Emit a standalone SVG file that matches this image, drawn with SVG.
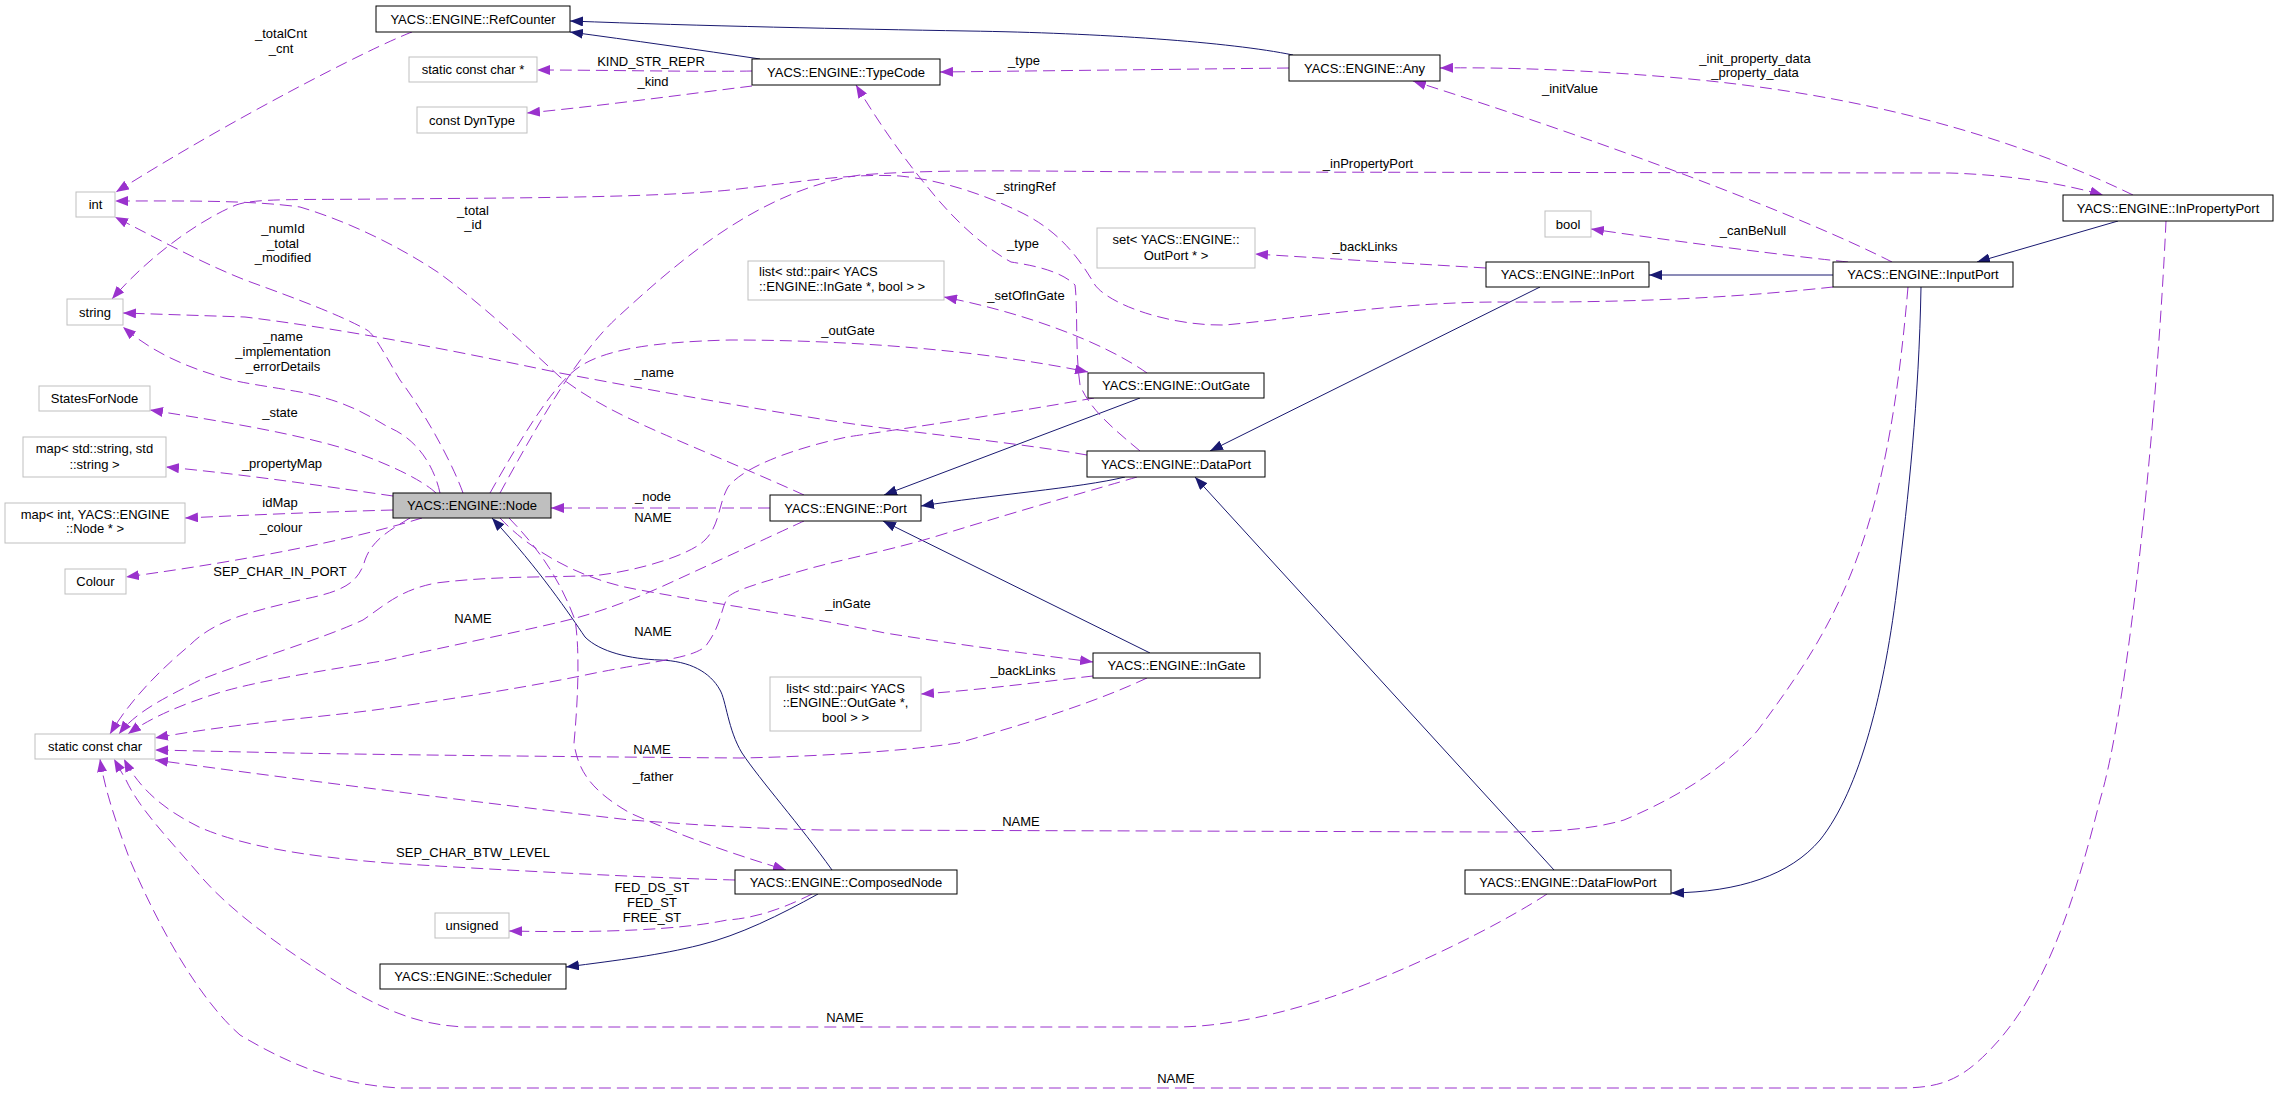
<svg xmlns="http://www.w3.org/2000/svg" width="2279" height="1093" viewBox="0 0 2279 1093">
<style>
.e{fill:none;stroke:#9a32cd;stroke-width:1;stroke-dasharray:12,6;marker-end:url(#mp)}
.i{fill:none;stroke:#191970;stroke-width:1;marker-end:url(#mn)}
.n rect{fill:#fff;stroke:#000;stroke-width:1}
.g rect{fill:#fff;stroke:#bfbfbf;stroke-width:1}
.f rect{fill:#bfbfbf;stroke:#000;stroke-width:1}
text{font-family:"Liberation Sans",Arial,sans-serif;font-size:13px;fill:#000}
.c{text-anchor:middle}
</style>
<defs>
<marker id="mp" markerUnits="userSpaceOnUse" markerWidth="14" markerHeight="10" refX="13" refY="5" orient="auto"><path d="M0,0L13,5L0,10z" fill="#9a32cd"/></marker>
<marker id="mn" markerUnits="userSpaceOnUse" markerWidth="14" markerHeight="10" refX="13" refY="5" orient="auto"><path d="M0,0L13,5L0,10z" fill="#191970"/></marker>
</defs>
<rect width="2279" height="1093" fill="#fff"/>
<g id="edges">
<path class="i" d="M760,59 C700,50 630,40 570,32"/>
<path class="i" d="M1293,55 C1230,42 1100,33 968,31 C850,29 700,26 570,21"/>
<path class="i" d="M2118,221 L1977,262"/>
<path class="i" d="M1833,275 L1649,275"/>
<path class="i" d="M1921,287 C1919,400 1908,500 1898,580 C1885,690 1860,790 1820,840 C1790,875 1740,892 1671,893"/>
<path class="i" d="M1540,287 L1210,451"/>
<path class="i" d="M1140,398 L884,495"/>
<path class="i" d="M1125,477 C1080,488 990,495 921,506"/>
<path class="i" d="M1150,653 L883,521"/>
<path class="i" d="M1554,870 L1195,477"/>
<path class="i" d="M832,870 C800,825 760,780 742,753 C728,730 726,700 720,690 C710,672 690,661 660,660 C630,659 600,652 585,637 C570,615 540,570 492,518"/>
<path class="i" d="M818,894 C780,915 740,935 700,945 C660,955 620,960 566,967"/>
<path class="e" d="M412,32 C370,48 230,120 116,192"/>
<path class="e" d="M752,71 C700,72 600,70 537,70"/>
<path class="e" d="M752,86 C680,95 600,106 527,113"/>
<path class="e" d="M1289,68 L940,72"/>
<path class="e" d="M2133,195 C2040,150 1900,100 1700,80 C1600,70 1500,67 1440,68"/>
<path class="e" d="M1892,262 C1800,215 1600,140 1413,81"/>
<path class="e" d="M500,493 C540,420 580,350 620,315 C680,260 760,190 860,175 C950,168 1050,172 1200,172 L1950,173 C2010,175 2060,183 2103,195"/>
<path class="e" d="M1848,262 C1790,256 1680,242 1591,229"/>
<path class="e" d="M1486,268 C1400,263 1320,258 1255,254"/>
<path class="e" d="M1833,287 C1750,296 1650,303 1500,302 C1400,302 1300,318 1225,325 C1170,326 1110,305 1095,285 C1080,260 1060,230 1016,210 C980,193 940,180 900,176 C850,173 800,182 730,190 C650,198 500,198 380,199 C300,200 255,198 236,205 C200,220 150,255 112,299"/>
<path class="e" d="M1140,451 C1115,430 1090,410 1080,385 C1075,350 1078,310 1075,285 C1060,270 1030,265 1011,262 C980,245 950,215 930,190 C905,160 880,125 856,85"/>
<path class="e" d="M1147,373 C1100,340 1020,312 944,297"/>
<path class="e" d="M490,493 C520,440 550,390 575,370 C600,350 650,342 730,340 C850,340 980,350 1088,372"/>
<path class="e" d="M1087,455 C1000,440 900,432 827,420 C750,408 650,390 560,373 C450,350 350,330 245,317 L123,313"/>
<path class="e" d="M440,493 C435,470 420,440 388,427 C360,410 340,400 300,392 C260,385 240,383 221,377 C180,365 150,350 123,327"/>
<path class="e" d="M463,493 C455,470 430,420 400,380 C385,355 375,335 367,330 C340,315 300,300 245,280 C200,262 160,240 115,217"/>
<path class="e" d="M436,493 C420,478 380,460 339,447 C280,430 200,418 150,410"/>
<path class="e" d="M393,496 C330,487 250,475 166,467"/>
<path class="e" d="M393,510 C320,512 250,515 185,518"/>
<path class="e" d="M422,518 C350,540 250,560 126,577"/>
<path class="e" d="M410,518 C390,530 372,540 365,560 C358,585 340,592 300,600 C250,612 215,620 190,645 C160,670 130,700 110,734"/>
<path class="e" d="M770,508 L551,508"/>
<path class="e" d="M1094,398 C1000,415 880,432 847,437 C800,447 745,465 728,487 C718,505 720,525 705,540 C690,555 640,570 600,575 C560,578 500,575 436,583 C400,590 385,605 363,620 C320,640 250,660 200,680 C160,700 135,713 119,734"/>
<path class="e" d="M804,521 C780,532 720,560 661,587 C620,605 590,615 560,622 C500,636 420,652 388,660 C340,668 260,680 218,693 C180,705 150,718 128,734"/>
<path class="e" d="M1137,477 C1100,488 1031,507 934,537 C880,553 837,560 794,573 C760,583 735,590 728,597 C720,610 722,625 705,647 C690,658 662,660 595,673 C529,687 463,697 396,707 C330,717 242,722 155,738"/>
<path class="e" d="M1147,678 C1100,700 1040,720 958,743 C900,752 800,757 740,758 C600,757 400,755 291,753 L155,750"/>
<path class="e" d="M1908,287 C1900,380 1890,440 1877,493 C1850,600 1810,660 1758,730 C1720,775 1660,805 1624,820 C1590,830 1550,832 1500,832 L822,830 C740,828 700,825 630,820 C500,805 300,780 155,760"/>
<path class="e" d="M1547,894 C1500,925 1400,975 1322,1000 C1260,1020 1210,1027 1176,1027 L465,1027 C420,1025 390,1012 350,990 C300,960 240,920 204,880 C170,840 140,810 126,780 L114,759"/>
<path class="e" d="M2166,221 C2158,400 2130,700 2100,800 C2070,920 2040,1000 1987,1053 C1960,1080 1940,1088 1900,1088 L400,1088 C340,1085 290,1065 240,1035 C200,1000 160,930 130,860 C115,820 105,790 100,759"/>
<path class="e" d="M735,880 C650,878 500,870 388,863 C300,856 240,845 199,827 C165,810 140,790 124,759"/>
<path class="e" d="M500,518 C530,550 580,580 640,590 C720,605 800,615 885,633 C980,648 1040,655 1093,662"/>
<path class="e" d="M509,518 C540,550 560,580 575,620 C580,650 578,700 574,743 C578,770 590,790 630,813 C680,835 720,850 786,870"/>
<path class="e" d="M1093,676 C1040,682 980,690 921,694"/>
<path class="e" d="M812,894 C790,905 760,918 727,920 C680,930 600,933 509,931"/>
<path class="e" d="M804,495 C760,475 700,450 661,433 C620,415 590,400 560,377 C520,340 480,303 439,273 C400,247 350,222 300,207 C250,200 180,201 115,201"/>
<g id="edge-labels">
<text class="c" x="281" y="38">_totalCnt</text>
<text class="c" x="281" y="53">_cnt</text>
<text class="c" x="651" y="66">KIND_STR_REPR</text>
<text class="c" x="653" y="86">_kind</text>
<text class="c" x="1024" y="65">_type</text>
<text class="c" x="1755" y="63">_init_property_data</text>
<text class="c" x="1755" y="77">_property_data</text>
<text class="c" x="1570" y="93">_initValue</text>
<text class="c" x="1368" y="168">_inPropertyPort</text>
<text class="c" x="1026" y="191">_stringRef</text>
<text class="c" x="473" y="215">_total</text>
<text class="c" x="473" y="229">_id</text>
<text class="c" x="1753" y="235">_canBeNull</text>
<text class="c" x="283" y="233">_numId</text>
<text class="c" x="283" y="248">_total</text>
<text class="c" x="283" y="262">_modified</text>
<text class="c" x="1023" y="248">_type</text>
<text class="c" x="1365" y="251">_backLinks</text>
<text class="c" x="1026" y="300">_setOfInGate</text>
<text class="c" x="848" y="335">_outGate</text>
<text class="c" x="283" y="341">_name</text>
<text class="c" x="283" y="356">_implementation</text>
<text class="c" x="283" y="371">_errorDetails</text>
<text class="c" x="654" y="377">_name</text>
<text class="c" x="280" y="417">_state</text>
<text class="c" x="282" y="468">_propertyMap</text>
<text class="c" x="280" y="507">idMap</text>
<text class="c" x="653" y="501">_node</text>
<text class="c" x="653" y="522">NAME</text>
<text class="c" x="281" y="532">_colour</text>
<text class="c" x="280" y="576">SEP_CHAR_IN_PORT</text>
<text class="c" x="848" y="608">_inGate</text>
<text class="c" x="473" y="623">NAME</text>
<text class="c" x="653" y="636">NAME</text>
<text class="c" x="1023" y="675">_backLinks</text>
<text class="c" x="652" y="754">NAME</text>
<text class="c" x="653" y="781">_father</text>
<text class="c" x="1021" y="826">NAME</text>
<text class="c" x="473" y="857">SEP_CHAR_BTW_LEVEL</text>
<text class="c" x="652" y="892">FED_DS_ST</text>
<text class="c" x="652" y="907">FED_ST</text>
<text class="c" x="652" y="922">FREE_ST</text>
<text class="c" x="845" y="1022">NAME</text>
<text class="c" x="1176" y="1083">NAME</text>
</g>
</g>
<g id="RefCounter" class="n"><rect x="376" y="6" width="194" height="26"/><text class="c" x="473" y="23.5">YACS::ENGINE::RefCounter</text></g>
<g id="StaticConstCharPtr" class="g"><rect x="409" y="57" width="128" height="25"/><text class="c" x="473" y="74">static const char *</text></g>
<g id="ConstDynType" class="g"><rect x="417" y="107" width="110" height="26"/><text class="c" x="472" y="124.5">const DynType</text></g>
<g id="TypeCode" class="n"><rect x="752" y="59" width="188" height="26"/><text class="c" x="846" y="76.5">YACS::ENGINE::TypeCode</text></g>
<g id="Any" class="n"><rect x="1289" y="55" width="151" height="26"/><text class="c" x="1364.5" y="72.5">YACS::ENGINE::Any</text></g>
<g id="int" class="g"><rect x="76" y="192" width="39" height="25"/><text class="c" x="95.5" y="209">int</text></g>
<g id="string" class="g"><rect x="67" y="299" width="56" height="26"/><text class="c" x="95" y="316.5">string</text></g>
<g id="SetOutPort" class="g"><rect x="1097" y="228" width="158" height="40"/><text class="c" x="1176" y="244">set&lt; YACS::ENGINE::</text><text class="c" x="1176" y="259.5">OutPort * &gt;</text></g>
<g id="ListInGate" class="g"><rect x="748" y="261" width="196" height="39"/><text x="759" y="276">list&lt; std::pair&lt; YACS</text><text x="759" y="291">::ENGINE::InGate *, bool &gt; &gt;</text></g>
<g id="bool" class="g"><rect x="1545" y="211" width="46" height="26"/><text class="c" x="1568" y="228.5">bool</text></g>
<g id="InPropertyPort" class="n"><rect x="2063" y="195" width="210" height="26"/><text class="c" x="2168" y="212.5">YACS::ENGINE::InPropertyPort</text></g>
<g id="InPort" class="n"><rect x="1486" y="262" width="163" height="25"/><text class="c" x="1567.5" y="279">YACS::ENGINE::InPort</text></g>
<g id="InputPort" class="n"><rect x="1833" y="262" width="180" height="25"/><text class="c" x="1923" y="279">YACS::ENGINE::InputPort</text></g>
<g id="StatesForNode" class="g"><rect x="39" y="386" width="111" height="25"/><text class="c" x="94.5" y="403">StatesForNode</text></g>
<g id="MapStringString" class="g"><rect x="23" y="437" width="143" height="40"/><text class="c" x="94.5" y="453">map&lt; std::string, std</text><text class="c" x="94.5" y="468.5">::string &gt;</text></g>
<g id="MapIntNode" class="g"><rect x="5" y="503" width="180" height="40"/><text class="c" x="95" y="518.5">map&lt; int, YACS::ENGINE</text><text class="c" x="95" y="533">::Node * &gt;</text></g>
<g id="Colour" class="g"><rect x="65" y="569" width="61" height="25"/><text class="c" x="95.5" y="586">Colour</text></g>
<g id="Node" class="f"><rect x="393" y="493" width="158" height="25"/><text class="c" x="472" y="510">YACS::ENGINE::Node</text></g>
<g id="OutGate" class="n"><rect x="1088" y="373" width="176" height="25"/><text class="c" x="1176" y="390">YACS::ENGINE::OutGate</text></g>
<g id="DataPort" class="n"><rect x="1087" y="451" width="178" height="26"/><text class="c" x="1176" y="468.5">YACS::ENGINE::DataPort</text></g>
<g id="Port" class="n"><rect x="770" y="495" width="151" height="26"/><text class="c" x="845.5" y="512.5">YACS::ENGINE::Port</text></g>
<g id="InGate" class="n"><rect x="1093" y="653" width="167" height="25"/><text class="c" x="1176.5" y="670">YACS::ENGINE::InGate</text></g>
<g id="ListOutGate" class="g"><rect x="770" y="677" width="151" height="54"/><text class="c" x="845.5" y="692.5">list&lt; std::pair&lt; YACS</text><text class="c" x="845.5" y="707">::ENGINE::OutGate *,</text><text class="c" x="845.5" y="721.5">bool &gt; &gt;</text></g>
<g id="StaticConstChar" class="g"><rect x="35" y="734" width="120" height="25"/><text class="c" x="95" y="751">static const char</text></g>
<g id="unsigned" class="g"><rect x="435" y="913" width="74" height="25"/><text class="c" x="472" y="930">unsigned</text></g>
<g id="Scheduler" class="n"><rect x="380" y="964" width="186" height="25"/><text class="c" x="473" y="981">YACS::ENGINE::Scheduler</text></g>
<g id="ComposedNode" class="n"><rect x="735" y="870" width="222" height="24"/><text class="c" x="846" y="886.5">YACS::ENGINE::ComposedNode</text></g>
<g id="DataFlowPort" class="n"><rect x="1465" y="870" width="206" height="24"/><text class="c" x="1568" y="886.5">YACS::ENGINE::DataFlowPort</text></g>
</svg>
